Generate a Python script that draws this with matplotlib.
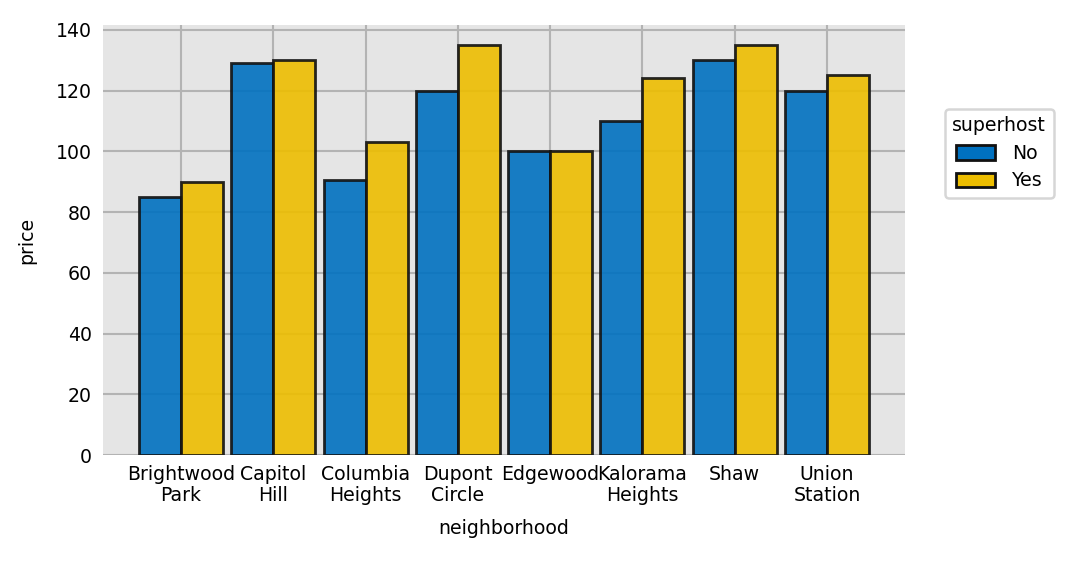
import numpy as np
import matplotlib
matplotlib.use("Agg")
import matplotlib.pyplot as plt

neighborhoods = ["Brightwood\nPark", "Capitol\nHill", "Columbia\nHeights", "Dupont\nCircle",
                 "Edgewood", "Kalorama\nHeights", "Shaw", "Union\nStation"]
price_no = [85, 129, 90.5, 120, 100, 110, 130, 120]
price_yes = [90, 130, 103, 135, 100, 124, 135, 125]
groups = ["No", "Yes"]
colors = ["#0071C0", "#EDBE00"]

plt.rcParams['font.family'] = 'DejaVu Sans'
fs = 13.6
fig = plt.figure(figsize=(10.8, 5.62), dpi=100)
ax = fig.add_axes([0.0954, 0.190, 0.7426, 0.7655])
ax.set_facecolor('#e5e5e5')

x = np.arange(len(neighborhoods))
w = 0.455
for i, (vals, lab) in enumerate(zip([price_no, price_yes], groups)):
    ax.bar(x + (i - 0.5) * w, vals, width=w, color=colors[i], alpha=0.9,
           edgecolor='#111111', linewidth=2.0, label=lab, zorder=3)

ax.set_xlim(-0.845, len(neighborhoods) - 1 + 0.845)
ax.set_ylim(0, 141.6)
ax.set_yticks(np.arange(0, 141, 20))
ax.set_xticks(x)
ax.set_xticklabels(neighborhoods, fontsize=fs, linespacing=1.15)
ax.tick_params(axis='y', labelsize=fs, length=0, pad=8)
ax.tick_params(axis='x', length=0, pad=7)
ax.grid(True, color='#b3b3b3', linewidth=1.5, zorder=0)
ax.set_axisbelow(True)
for s in ax.spines.values():
    s.set_visible(False)
ax.set_xlabel("neighborhood", fontsize=fs, labelpad=10)
ax.set_ylabel("price", fontsize=fs, labelpad=14)

leg = ax.legend(title="superhost", loc='center left', bbox_to_anchor=(0.866, 0.727),
                bbox_transform=fig.transFigure, fontsize=fs, title_fontsize=fs,
                frameon=True, handlelength=2.1, handleheight=0.8, borderpad=0.4,
                labelspacing=0.45, handletextpad=0.9)
leg.get_frame().set_edgecolor('#cccccc')
leg.get_frame().set_linewidth(1.8)
for h in leg.legend_handles:
    h.set_alpha(1.0)

fig.savefig("out.png", dpi=100)
